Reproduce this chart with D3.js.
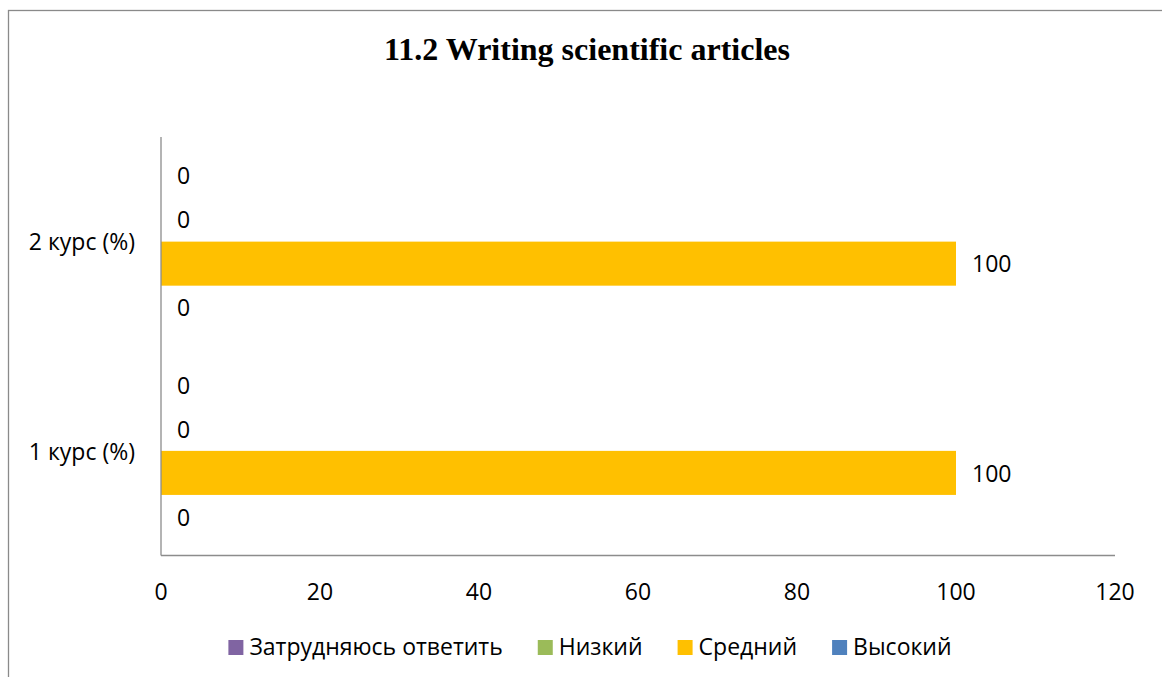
<!DOCTYPE html>
<meta charset="utf-8">
<style>
    body { margin: 0; background: #fff; }
    text { font-family: "Open Sans", sans-serif; fill: #000; }
</style>
<svg width="1162" height="677"></svg>
<script src="https://d3js.org/d3.v7.min.js"></script>

<script>
    // данные
    var categories = ["1 курс (%)", "2 курс (%)"];
    var seriesNames = ["Высокий", "Средний", "Низкий", "Затрудняюсь ответить"];
    var seriesColors = ["#4F81BD", "#FFC000", "#9BBB59", "#8064A2"];
    var vysokiy = [0, 0];
    var sredniy = [100, 100];
    var nizkiy = [0, 0];
    var zatrudnyayus = [0, 0];
    var xTicks = [0, 20, 40, 60, 80, 100, 120];
    var title = "11.2 Writing scientific articles";

    var seriesValues = [vysokiy, sredniy, nizkiy, zatrudnyayus];
</script>

<script>
    var svg = d3.select("svg");

    // рамка диаграммы
    svg.append("rect")
        .attr("x", 8.5).attr("y", 10.5)
        .attr("width", 1200).attr("height", 700)
        .attr("fill", "none")
        .attr("stroke", "#8a8a8a")
        .attr("stroke-width", 1.3);

    svg.append("text")
        .attr("x", 587).attr("y", 60)
        .attr("text-anchor", "middle")
        .style("font-family", "'Liberation Serif', 'Times New Roman', serif")
        .style("font-weight", "bold")
        .style("font-size", "32px")
        .text(title);

    var x = d3.scaleLinear().domain([0, 120]).range([161, 1115]);
    // верхняя категория — последняя
    var y = d3.scaleBand()
        .domain(categories.slice().reverse())
        .range([137, 555.5])
        .paddingInner(0.158)
        .paddingOuter(0.079);
    // внутри группы: первый ряд снизу
    var ySub = d3.scaleBand()
        .domain(d3.range(seriesNames.length).reverse())
        .range([0, y.bandwidth()]);

    var rows = [];
    categories.forEach(function (c, ci) {
        seriesValues.forEach(function (vals, si) {
            rows.push({cat: c, s: si, v: vals[ci]});
        });
    });

    svg.selectAll("rect.bar")
        .data(rows)
        .enter()
        .append("rect")
        .attr("class", "bar")
        .attr("x", x(0))
        .attr("y", function (d) { return y(d.cat) + ySub(d.s); })
        .attr("width", function (d) { return x(d.v) - x(0); })
        .attr("height", ySub.bandwidth())
        .attr("fill", function (d) { return seriesColors[d.s]; });

    svg.selectAll("text.lbl")
        .data(rows)
        .enter()
        .append("text")
        .attr("class", "lbl")
        .attr("x", function (d) { return x(d.v) + 16; })
        .attr("y", function (d) { return y(d.cat) + ySub(d.s) + ySub.bandwidth() / 2; })
        .attr("dy", "0.38em")
        .style("font-size", "23px")
        .text(function (d) { return d.v; });

    // оси
    svg.append("line")
        .attr("x1", x(0)).attr("x2", x(0))
        .attr("y1", 137).attr("y2", 555.5)
        .attr("stroke", "#8c8c8c").attr("stroke-width", 1.3);
    svg.append("line")
        .attr("x1", x(0)).attr("x2", x(120))
        .attr("y1", 555.5).attr("y2", 555.5)
        .attr("stroke", "#8c8c8c").attr("stroke-width", 1.3);

    svg.selectAll("text.xt")
        .data(xTicks)
        .enter()
        .append("text")
        .attr("class", "xt")
        .attr("x", function (d) { return x(d); })
        .attr("y", 600)
        .attr("text-anchor", "middle")
        .style("font-size", "23px")
        .text(function (d) { return d; });

    svg.selectAll("text.yt")
        .data(categories)
        .enter()
        .append("text")
        .attr("class", "yt")
        .attr("x", 135)
        .attr("y", function (d) { return y(d) + y.bandwidth() / 2; })
        .attr("dy", "0.38em")
        .attr("text-anchor", "end")
        .style("font-size", "23px")
        .text(function (d) { return d; });

    // легенда
    var legendOrder = [3, 2, 1, 0];
    var legend = svg.append("g");
    var lx = 0;
    legendOrder.forEach(function (si) {
        var g = legend.append("g").attr("transform", "translate(" + lx + ",0)");
        g.append("rect")
            .attr("x", 0).attr("y", -15)
            .attr("width", 15).attr("height", 15)
            .attr("fill", seriesColors[si]);
        var t = g.append("text")
            .attr("x", 21).attr("y", 0)
            .style("font-size", "23px")
            .text(seriesNames[si]);
        lx += 21 + t.node().getComputedTextLength() + 35;
    });
    var legendWidth = lx - 35;
    legend.attr("transform", "translate(" + (590 - legendWidth / 2) + ",655)");
</script>
